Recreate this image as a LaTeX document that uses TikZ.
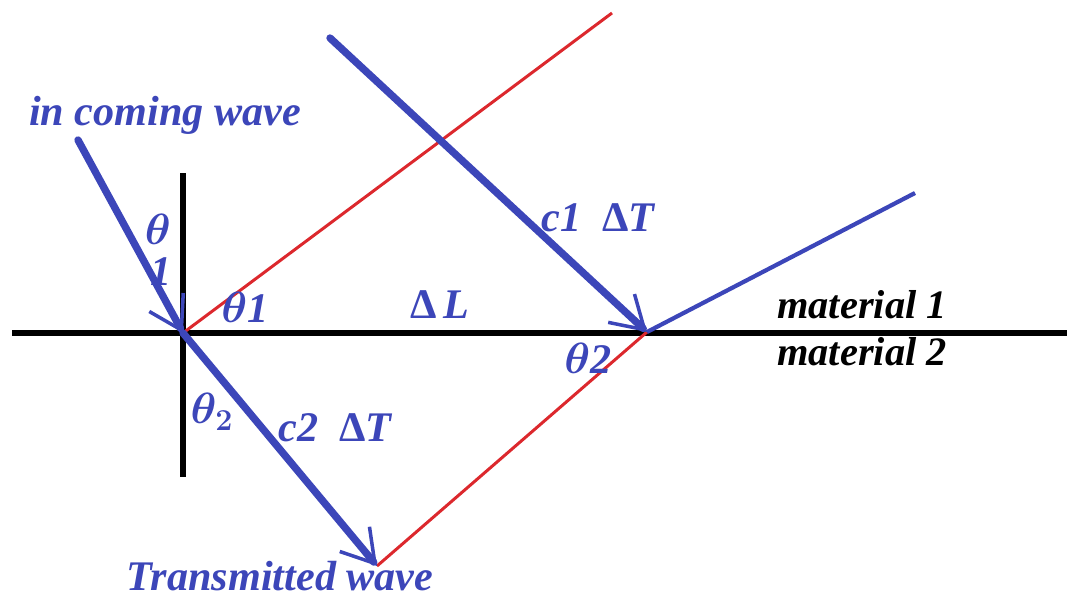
\documentclass[tikz,border=0pt]{standalone}
\usepackage{fontspec}
\setmainfont{Liberation Serif}
\usetikzlibrary{arrows.meta}
\definecolor{wave}{RGB}{60,70,185}
\definecolor{front}{RGB}{220,40,45}

\begin{document}
\begin{tikzpicture}[x=0.02cm,y=-0.02cm,
    wavearrow/.style={draw=wave,line width=4.2pt,line cap=round,
      -{Straight Barb[length=18pt,width=22pt,line width=2pt]}},
    wavefront/.style={draw=front,line width=1.7pt},
    boundary/.style={draw=black,line width=3.2pt},
    lbl/.style={text=wave,font=\fontsize{24}{28}\selectfont\bfseries\itshape\boldmath,inner sep=0pt},
    matlbl/.style={text=black,font=\fontsize{23}{27}\selectfont\bfseries\itshape,inner sep=0pt}]
  \useasboundingbox (0,0) rectangle (1067,598);

  %interface and normal
  \coordinate (Lft) at (12,333);
  \coordinate (Rgt) at (1067,333);
  \coordinate (NTop) at (183,173);
  \coordinate (NBot) at (183,477);
  \draw[boundary] (Lft) -- (Rgt);
  \draw[boundary] (NTop) -- (NBot);

  %rays
  \coordinate (O) at (183,333);
  \coordinate (P) at (647,332);
  \coordinate (Inc) at (78,140);
  \coordinate (Top) at (330,38);
  \coordinate (RedTop) at (612,13);
  \coordinate (Ref) at (915,193);
  \coordinate (Tr) at (377,566);
  \draw[wavefront] (O) -- (RedTop);
  \draw[wavefront] (Tr) -- (P);
  \draw[wavearrow] (Inc) -- (O);
  \draw[wavearrow] (Top) -- (P);
  \draw[wavearrow] (O) -- (Tr);
  \draw[draw=wave,line width=2.4pt] (P) -- (Ref);

  %labels
  \node[lbl] (incoming) at (165,115) {in coming wave};
  \node[lbl,align=left] (thA) at (158,250) {$\theta$\\[-5pt]\hspace{3pt}1};
  \node[lbl] (thB) at (245,307) {$\theta$1};
  \node[lbl] (dL) at (440,305) {{\upshape Δ}\,L};
  \node[lbl] (cA) at (598,218) {c1\ \ {\upshape Δ}T};
  \node[matlbl] (matA) at (862,305) {material 1};
  \node[matlbl] (matB) at (862,352) {material 2};
  \node[lbl] (thC) at (588,358) {$\theta$2};
  \node[lbl] (thD) at (212,412) {$\theta_{2}$};
  \node[lbl] (cB) at (335,428) {c2\ \ {\upshape Δ}T};
  \node[lbl] (trans) at (280,576) {Transmitted wave};
\end{tikzpicture}
\end{document}
